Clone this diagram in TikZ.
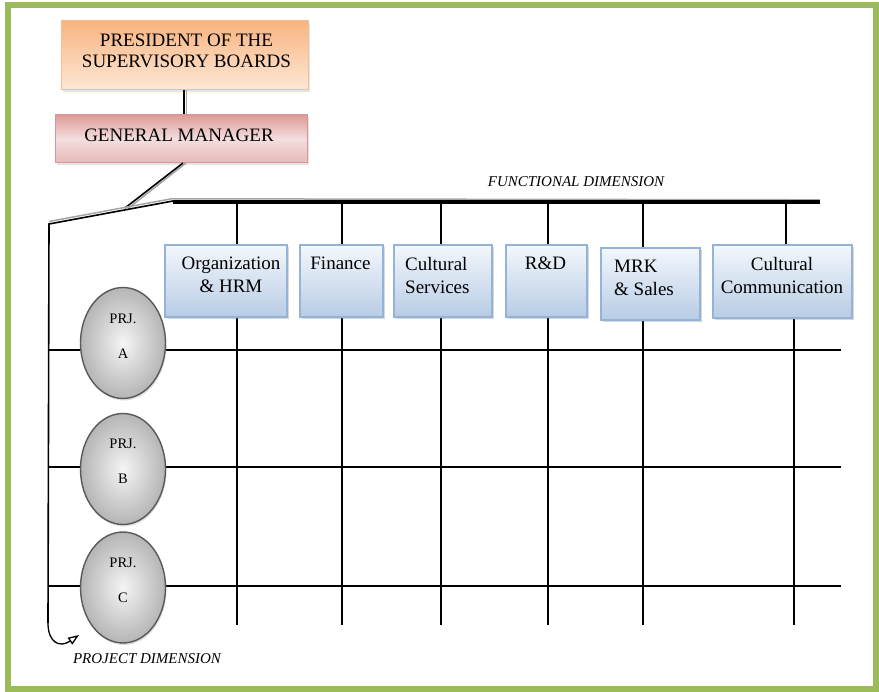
\documentclass[tikz,border=0pt]{standalone}
\usepackage{fontspec}
\setmainfont{Liberation Serif}
\usetikzlibrary{shapes.geometric,shadows,arrows.meta,calc}
\definecolor{framegreen}{RGB}{155,187,89}
\definecolor{boxblue}{RGB}{149,179,215}
\definecolor{blueTop}{RGB}{243,247,252}
\definecolor{blueBot}{RGB}{184,204,229}
\definecolor{orTop}{RGB}{248,180,128}
\definecolor{orBot}{RGB}{253,232,214}
\definecolor{orEdge}{RGB}{246,190,145}
\definecolor{gmTop}{RGB}{220,155,153}
\definecolor{gmMid}{RGB}{244,222,222}
\definecolor{gmBot}{RGB}{232,186,185}
\definecolor{gmEdge}{RGB}{214,150,148}
\definecolor{linegray}{RGB}{165,165,165}
\tikzset{
  funcbox/.style={draw=boxblue, line width=1.6pt, top color=blueTop, bottom color=blueBot,
    drop shadow={shadow xshift=1.5pt, shadow yshift=-2.5pt, opacity=.3, fill=gray}},
  boxtext/.style={inner sep=0pt, font=\fontsize{19}{23}\selectfont, align=center},
  prjell/.style={ellipse, draw=gray!70!black, line width=1.4pt, minimum width=85pt, minimum height=111pt,
    inner color=gray!8, outer color=gray!58,
    drop shadow={shadow xshift=1pt, shadow yshift=-2pt, opacity=.25, fill=gray}},
  prjtext/.style={inner sep=0pt, font=\fontsize{14.5}{35}\selectfont, align=center},
  dimtext/.style={inner sep=0pt, font=\fontsize{15}{18}\selectfont\itshape},
  gridline/.style={line width=1.7pt, black},
  shadowline/.style={line width=1.5pt, linegray},
}
\begin{document}
\begin{tikzpicture}[x=1pt,y=-1pt]
\useasboundingbox (0,0) rectangle (879,692);
\fill[white] (0,0) rectangle (879,692);
% frame
\draw[framegreen, line width=6.5pt] (8,5) rectangle (876,689);

% top boxes
\node[draw=orEdge, line width=1pt, top color=orTop, bottom color=orBot, minimum width=247pt, minimum height=69pt,
  drop shadow={shadow xshift=1.5pt, shadow yshift=-2pt, opacity=.2, fill=gray}] (pres) at (184.5,55.5) {};
\node[boxtext, font=\fontsize{19}{21}\selectfont, anchor=north] (prest) at (186.5,34) {PRESIDENT OF THE\\SUPERVISORY BOARDS};
\node[draw=gmEdge, line width=1pt, top color=gmTop, bottom color=gmBot, middle color=gmMid, minimum width=252pt, minimum height=48pt,
  drop shadow={shadow xshift=1.5pt, shadow yshift=-2pt, opacity=.2, fill=gray}] (gm) at (181,139) {};
\node[boxtext, anchor=north] (gmt) at (179,129) {GENERAL MANAGER};

% president -> GM double connector
\draw[shadowline] ([xshift=2.5pt]pres.south -| 184,0) -- ([xshift=2.5pt]gm.north -| 184,0);
\draw[line width=1.6pt] (pres.south -| 184,0) -- (gm.north -| 184,0);

% coordinates
\coordinate (gmf) at (183,163);
\coordinate (jn) at (125,208);
\coordinate (fl) at (173,201);
\coordinate (fr) at (820,202);
\coordinate (jl) at (49,224);
\coordinate (lvb) at (48,623);
\coordinate (bot) at (0,625);

% GM to junction
\draw[shadowline] ([xshift=3pt]gmf) -- ([xshift=3pt,yshift=-0.5pt]jn);
\draw[line width=1.6pt] (gmf) -- (jn);
\draw[shadowline] ([yshift=2.5pt]fl) -- ([yshift=2.5pt]jl);
\draw[line width=1.6pt] (fl) -- (jl) -- (lvb);
% functional thick line
\draw[linegray, line width=1.5pt] ([yshift=2.2pt]fl) -- ([yshift=2.2pt]fr);
\draw[line width=3.8pt] (fl |- fr) -- (fr);

% vertical grid lines
\foreach \n/\x in {v1/237, v2/342, v3/441, v4/548, v5/643} {
  \coordinate (\n) at (\x,202);
  \draw[gridline] (\n) -- (\n |- bot);
}
\coordinate (v6) at (786,202);
\coordinate (v6b) at (794,318);
\draw[gridline] (v6) -- (786,246);
\draw[gridline] (v6b) -- (v6b |- bot);

% row lines
\foreach \n/\y in {rA/350, rB/467, rC/586} {
  \coordinate (\n) at (48,\y);
  \draw[gridline] (\n) -- (841,\y);
}

% functional boxes
\node[funcbox, minimum width=122pt, minimum height=72pt] (org) at (226,281) {};
\node[funcbox, minimum width=83pt, minimum height=72pt] (fin) at (341.5,281) {};
\node[funcbox, minimum width=98pt, minimum height=72pt] (cs) at (443,281) {};
\node[funcbox, minimum width=81pt, minimum height=72pt] (rd) at (546.5,281) {};
\node[funcbox, minimum width=99pt, minimum height=72pt] (mrk) at (650.5,284) {};
\node[funcbox, minimum width=139pt, minimum height=73pt] (cc) at (782.5,281.5) {};

\node[boxtext, anchor=north] (orgt) at (231,257) {Organization\\\& HRM};
\node[boxtext, anchor=north] (fint) at (340.5,257) {Finance};
\node[boxtext, anchor=north west, align=left] (cst) at (405,257) {Cultural\\Services};
\node[boxtext, anchor=north] (rdt) at (545.5,257) {R\&D};
\node[boxtext, anchor=north west, align=left] (mrkt) at (614,260) {MRK\\\& Sales};
\node[boxtext, anchor=north] (cct) at (782,257) {Cultural\\Communication};

% project ellipses
\node[prjell] (pa) at (123,343) {};
\node[prjell] (pb) at (123,469) {};
\node[prjell] (pc) at (123,587.5) {};
\node[prjtext, anchor=north] (pat) at (123,314) {PRJ.\\A};
\node[prjtext, anchor=north] (pbt) at (123,439) {PRJ.\\B};
\node[prjtext, anchor=north] (pct) at (123,558) {PRJ.\\C};

% project arrow (drawn over the ellipse)
\coordinate (arrtip) at (79,635);
\draw[line width=1.3pt, -{Triangle[open, length=11pt, width=8pt]}] (lvb) .. controls (48,643) and (60,648) .. (arrtip);

% dimension labels
\node[dimtext, anchor=base] (fdim) at (576,187) {FUNCTIONAL DIMENSION};
\node[dimtext, anchor=base] (pdim) at (147,663) {PROJECT DIMENSION};
\end{tikzpicture}
\end{document}
